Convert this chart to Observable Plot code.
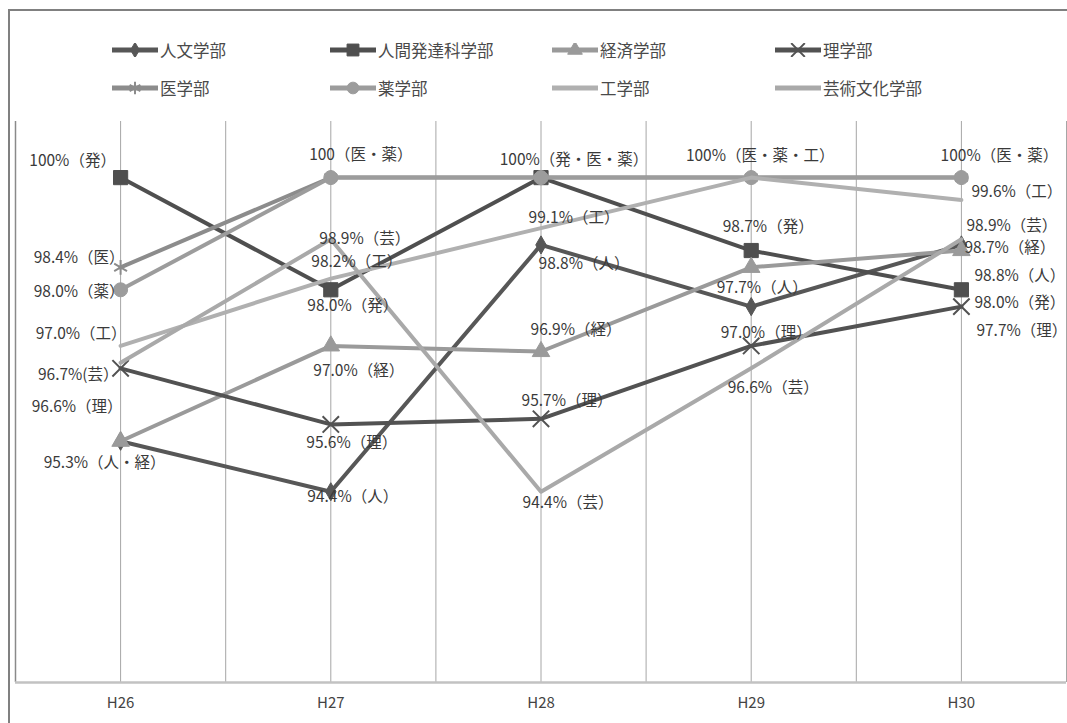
<!DOCTYPE html>
<html><head><meta charset="utf-8">
<script src="https://cdn.jsdelivr.net/npm/d3@7"></script>
<script src="https://cdn.jsdelivr.net/npm/@observablehq/plot@0.6"></script>
<style>
body{margin:0;background:#fff;}
#wrap{position:relative;width:1067px;height:723px;overflow:hidden;font-family:"Noto Sans CJK JP",sans-serif;background:#fff;}
#chart{position:absolute;left:0;top:0;}
#border{position:absolute;left:8px;top:9px;width:1100px;height:760px;border:2px solid #808080;pointer-events:none;}
#legend{position:absolute;left:112px;top:31px;display:grid;grid-template-columns:218px 222px 223px 220px;grid-auto-rows:38px;}
.item{display:flex;align-items:center;font-size:16.5px;color:#4a4a4a;white-space:nowrap;}
.item svg{margin-right:2px;}
</style></head><body>
<div id="wrap"><div id="chart"></div><div id="border"></div><div id="legend"></div></div>
<script>
// ---- data ----
const years = ["H26","H27","H28","H29","H30"];
const faculties = ["人文学部","人間発達科学部","経済学部","理学部","医学部","薬学部","工学部","芸術文化学部"];
const jinbun    = [95.3, 94.4, 98.8, 97.7, 98.8];
const hattatsu  = [100.0, 98.0, 100.0, 98.7, 98.0];
const keizai    = [95.3, 97.0, 96.9, 98.4, 98.7];
const rigaku    = [96.6, 95.6, 95.7, 97.0, 97.7];
const igaku     = [98.4, 100.0, 100.0, 100.0, 100.0];
const yakugaku  = [98.0, 100.0, 100.0, 100.0, 100.0];
const kougaku   = [97.0, 98.2, 99.1, 100.0, 99.6];
const geijutsu  = [96.7, 98.9, 94.4, 96.6, 98.9];
const seriesValues = [jinbun, hattatsu, keizai, rigaku, igaku, yakugaku, kougaku, geijutsu];

// data labels: [year, value, text]
const labels = [
  ["H26",100.0,"100%（発）"],
  ["H26",98.4,"98.4%（医）"],
  ["H26",98.0,"98.0%（薬）"],
  ["H26",97.0,"97.0%（工）"],
  ["H26",96.7,"96.7%(芸）"],
  ["H26",96.6,"96.6%（理）"],
  ["H26",95.3,"95.3%（人・経）"],
  ["H27",100.0,"100（医・薬）"],
  ["H27",98.9,"98.9%（芸）"],
  ["H27",98.2,"98.2%（工）"],
  ["H27",98.0,"98.0%（発）"],
  ["H27",97.0,"97.0%（経）"],
  ["H27",95.6,"95.6%（理）"],
  ["H27",94.4,"94.4%（人）"],
  ["H28",100.0,"100%（発・医・薬）"],
  ["H28",99.1,"99.1%（工）"],
  ["H28",98.8,"98.8%（人）"],
  ["H28",96.9,"96.9%（経）"],
  ["H28",95.7,"95.7%（理）"],
  ["H28",94.4,"94.4%（芸）"],
  ["H29",100.0,"100%（医・薬・工）"],
  ["H29",98.7,"98.7%（発）"],
  ["H29",97.7,"97.7%（人）"],
  ["H29",97.0,"97.0%（理）"],
  ["H29",96.6,"96.6%（芸）"],
  ["H30",100.0,"100%（医・薬）"],
  ["H30",99.6,"99.6%（工）"],
  ["H30",98.9,"98.9%（芸）"],
  ["H30",98.7,"98.7%（経）"],
  ["H30",98.8,"98.8%（人）"],
  ["H30",98.0,"98.0%（発）"],
  ["H30",97.7,"97.7%（理）"]
];

// ---- styles (kept apart from data) ----
const seriesStyle = [
  {stroke:"#575757", symbol:"diamond",  r:5.5, fill:true},
  {stroke:"#4f4f4f", symbol:"square",   r:8,   fill:true},
  {stroke:"#9a9a9a", symbol:"triangle", r:6.5, fill:true},
  {stroke:"#525252", symbol:"times",    r:7.5, fill:false},
  {stroke:"#8c8c8c", symbol:"asterisk", r:7,   fill:false},
  {stroke:"#9c9c9c", symbol:"circle",   r:7,   fill:true},
  {stroke:"#b0b0b0", symbol:null,       r:0,   fill:true},
  {stroke:"#a9a9a9", symbol:null,       r:0,   fill:true}
];
// label offsets [dx, dy, anchor]
const labelOffsets = [
  [-48,-17,"middle"],[4,-9,"end"],[4,2,"end"],[6,-12,"end"],[-2,12,"end"],[2,39,"end"],[-16,22,"middle"],
  [30,-23,"middle"],[34,0,"middle"],[26,-17,"middle"],[22,16,"middle"],[28,25,"middle"],[21,19,"middle"],[22,5,"middle"],
  [33,-18,"middle"],[33,-10,"middle"],[43,19,"middle"],[35,-21,"middle"],[26,-18,"middle"],[27,11,"middle"],
  [9,-22,"middle"],[17,-23,"middle"],[11,-19,"middle"],[15,-13,"middle"],[22,20,"middle"],
  [38,-22,"middle"],[10,-8,"start"],[5,-13,"start"],[3,-2,"start"],[13,31,"start"],[13,13,"start"],[15,24,"start"]
];

const rows = [];
faculties.forEach((f, s) => seriesValues[s].forEach((v, i) => rows.push({faculty:f, s, i, value:v})));

const marks = [];
// gridlines at category centres and boundaries
marks.push(Plot.ruleX(d3.range(-0.5, years.length, 0.5), {stroke:"#a6a6a6", strokeWidth:1}));
marks.push(Plot.ruleX([-0.5], {stroke:"#8a8a8a", strokeWidth:1.5}));
marks.push(Plot.ruleY([91], {stroke:"#c2c2c2", strokeWidth:2.5}));
// category tick labels
marks.push(Plot.text(years, {x:(d, i) => i, text:d => d, frameAnchor:"bottom", dy:21,
  fontSize:15, fill:"#444", lineAnchor:"middle"}));

faculties.forEach((f, s) => {
  const st = seriesStyle[s];
  const data = rows.filter(d => d.s === s);
  marks.push(Plot.line(data, {x:"i", y:"value", stroke:st.stroke, strokeWidth:4, curve:"linear"}));
  if (st.symbol) {
    marks.push(Plot.dot(data, {x:"i", y:"value", symbol:st.symbol, r:st.r,
      fill: st.fill ? st.stroke : "none", stroke: st.stroke, strokeWidth: st.fill ? 1 : 2}));
  }
});

labels.forEach((lb, k) => {
  const [dx, dy, anchor] = labelOffsets[k];
  marks.push(Plot.text([lb], {x: d => years.indexOf(d[0]), y: d => d[1], text: d => d[2],
    dx, dy, textAnchor: anchor, fontSize: 15.5, fill: "#3a3a3a", lineAnchor: "middle"}));
});

const chart = Plot.plot({
  width:1067, height:723,
  marginLeft:15, marginRight:1, marginTop:121, marginBottom:41,
  x:{domain:[-0.5, years.length - 0.5], axis:null},
  y:{domain:[91, 101], axis:null},
  style:{background:"transparent", fontFamily:"'Noto Sans CJK JP', sans-serif", fontSize:"15px"},
  marks
});
document.getElementById("chart").appendChild(chart);

// legend
const symbolMap = {diamond:d3.symbolDiamond, square:d3.symbolSquare, triangle:d3.symbolTriangle,
  times:d3.symbolTimes, asterisk:d3.symbolAsterisk, circle:d3.symbolCircle};
const legend = d3.select("#legend");
faculties.forEach((f, s) => {
  const st = seriesStyle[s];
  const item = legend.append("div").attr("class", "item");
  const svg = item.append("svg").attr("width", 46).attr("height", 14);
  svg.append("line").attr("x1", 0).attr("x2", 46).attr("y1", 7).attr("y2", 7)
    .attr("stroke", st.stroke).attr("stroke-width", 5);
  if (st.symbol) {
    svg.append("path").attr("transform", "translate(23,7)")
      .attr("d", d3.symbol(symbolMap[st.symbol], st.r * st.r * 2.2)())
      .attr("fill", st.fill ? st.stroke : "none").attr("stroke", st.stroke).attr("stroke-width", st.fill ? 1 : 2);
  }
  item.append("span").text(f);
});
</script>
</body></html>
